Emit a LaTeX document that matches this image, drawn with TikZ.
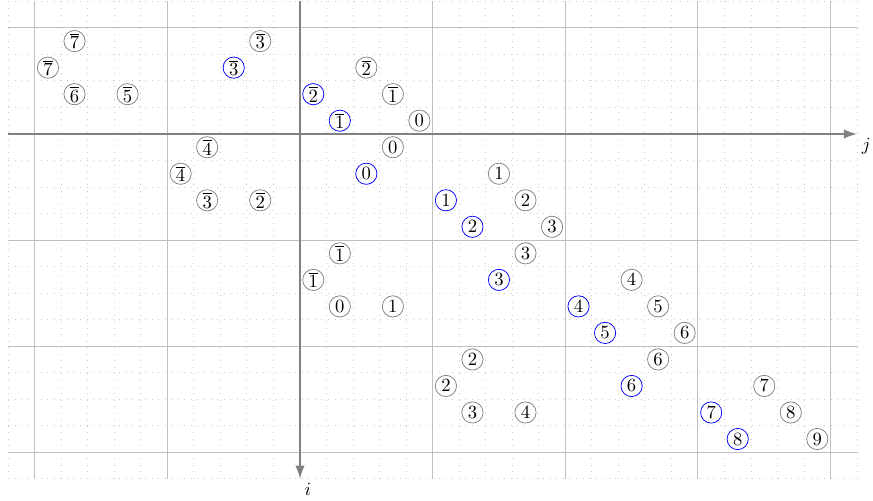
\documentclass[tikz,border=0pt]{standalone}
\usetikzlibrary{arrows.meta}
\begin{document}
\begin{tikzpicture}[x=0.5cm,y=0.5cm,
  minorgrid/.style={gray!40, line width=0.5pt, dash pattern=on 0.5pt off 3pt},
  majorgrid/.style={gray!50, line width=0.5pt},
  axis/.style={gray, line width=1pt, -{Latex[length=2.5mm,width=1.8mm]}},
  cell/.style={circle, draw=gray, line width=0.4pt, minimum size=0.4cm, inner sep=0pt, font=\normalsize},
  hot/.style={cell, draw=blue}]
\useasboundingbox (-11.31,-13.82) rectangle (21.6,5.05);
% grids
\draw[minorgrid] (-11,-13) grid[step=1] (21,5);
\foreach \x in {-10,-5,5,10,15,20} \draw[majorgrid] (\x,-13) -- (\x,5);
\foreach \y in {4,-4,-8,-12} \draw[majorgrid] (-11,\y) -- (21,\y);
% axes
\coordinate (jstart) at (-11,0);
\coordinate (jend) at (21,0);
\coordinate (istart) at (0,5);
\coordinate (iend) at (0,-13);
\draw[axis] (jstart) -- (jend) node[below right, black, inner sep=2pt] (jl) {$j$};
\draw[axis] (istart) -- (iend) node[below right, black, inner sep=2pt] (il) {$i$};
% nodes
\node[cell] (a1) at (-8.5,3.5) {$\overline{7}$};
\node[cell] (a2) at (-1.5,3.5) {$\overline{3}$};
\node[cell] (a3) at (-9.5,2.5) {$\overline{7}$};
\node[hot]  (a4) at (-2.5,2.5) {$\overline{3}$};
\node[cell] (a5) at (2.5,2.5) {$\overline{2}$};
\node[cell] (a6) at (-8.5,1.5) {$\overline{6}$};
\node[cell] (a7) at (-6.5,1.5) {$\overline{5}$};
\node[hot]  (a8) at (0.5,1.5) {$\overline{2}$};
\node[cell] (a9) at (3.5,1.5) {$\overline{1}$};
\node[hot]  (a10) at (1.5,0.5) {$\overline{1}$};
\node[cell] (a11) at (4.5,0.5) {$0$};
\node[cell] (b1) at (-3.5,-0.5) {$\overline{4}$};
\node[cell] (b2) at (3.5,-0.5) {$0$};
\node[cell] (b3) at (-4.5,-1.5) {$\overline{4}$};
\node[hot]  (b4) at (2.5,-1.5) {$0$};
\node[cell] (b5) at (7.5,-1.5) {$1$};
\node[cell] (b6) at (-3.5,-2.5) {$\overline{3}$};
\node[cell] (b7) at (-1.5,-2.5) {$\overline{2}$};
\node[hot]  (b8) at (5.5,-2.5) {$1$};
\node[cell] (b9) at (8.5,-2.5) {$2$};
\node[hot]  (b10) at (6.5,-3.5) {$2$};
\node[cell] (b11) at (9.5,-3.5) {$3$};
\node[cell] (c1) at (1.5,-4.5) {$\overline{1}$};
\node[cell] (c2) at (8.5,-4.5) {$3$};
\node[cell] (c3) at (0.5,-5.5) {$\overline{1}$};
\node[hot]  (c4) at (7.5,-5.5) {$3$};
\node[cell] (c5) at (12.5,-5.5) {$4$};
\node[cell] (c6) at (1.5,-6.5) {$0$};
\node[cell] (c7) at (3.5,-6.5) {$1$};
\node[hot]  (c8) at (10.5,-6.5) {$4$};
\node[cell] (c9) at (13.5,-6.5) {$5$};
\node[hot]  (c10) at (11.5,-7.5) {$5$};
\node[cell] (c11) at (14.5,-7.5) {$6$};
\node[cell] (d1) at (6.5,-8.5) {$2$};
\node[cell] (d2) at (13.5,-8.5) {$6$};
\node[cell] (d3) at (5.5,-9.5) {$2$};
\node[hot]  (d4) at (12.5,-9.5) {$6$};
\node[cell] (d5) at (17.5,-9.5) {$7$};
\node[cell] (d6) at (6.5,-10.5) {$3$};
\node[cell] (d7) at (8.5,-10.5) {$4$};
\node[hot]  (d8) at (15.5,-10.5) {$7$};
\node[cell] (d9) at (18.5,-10.5) {$8$};
\node[hot]  (d10) at (16.5,-11.5) {$8$};
\node[cell] (d11) at (19.5,-11.5) {$9$};
\end{tikzpicture}
\end{document}
